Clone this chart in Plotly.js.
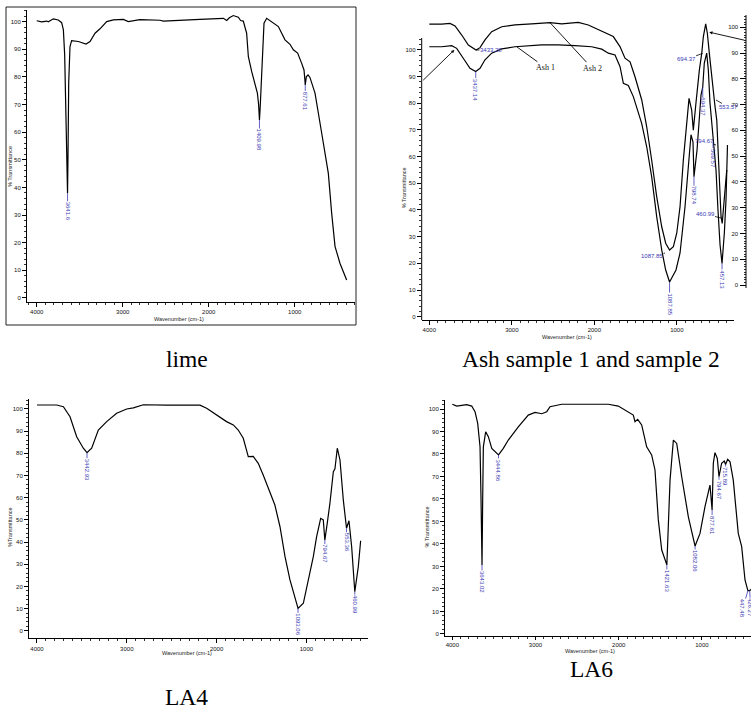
<!DOCTYPE html>
<html>
<head>
<meta charset="utf-8">
<script src="https://cdn.plot.ly/plotly-3.0.1.min.js"></script>
<style>html,body{margin:0;padding:0;background:#fff;}#chart{width:751px;height:709px;}</style>
</head>
<body>
<div id="chart"></div>
<script>
// ---------- DATA ----------
const xTickVals = [4000, 3000, 2000, 1000];
const yTickVals = [0, 10, 20, 30, 40, 50, 60, 70, 80, 90, 100];

// lime
const limeWn = [4000,3942,3884,3865,3807,3749,3710,3690,3675,3660,3648,3641.6,3636,3628,3613,3594,3516,3460,3427,3380,3322,3264,3186,3109,2993,2935,2877,2800,2566,2527,2101,1830,1791,1760,1714,1656,1629,1598,1559,1539,1500,1461,1434,1420,1409.98,1400,1390,1376,1357,1326,1268,1190,1113,1055,1016,966,919,892,882,877.61,865,845,823,764,686,609,570,531,473,396];
const limeT  = [100.3,99.9,100.2,99.9,101.0,100.6,99.6,97.0,88,68,45,37.9,52,78,91,93.1,92.8,92.2,91.9,92.8,95.8,97.4,100.0,100.6,100.8,100.0,100.4,100.7,100.5,100.2,100.8,101.2,100.4,101.4,102.2,101.6,100.4,100.2,95.8,87.3,81.9,77.7,74.1,70,64.4,70,78,89.8,99.4,101.2,100.0,98.2,93.4,91.8,89.8,88.6,84.9,82.5,79,77.1,80,80.7,79.8,74.1,59.6,45.1,30.6,18.6,12.5,6.5];
const limePeakWn = [3641.6, 1409.98, 877.61];
const limePeakT  = [37.9, 64.4, 77.1];
const limePeakText = ['3641.6', '1409.98', '877.61'];

// Ash sample 1 (left axis)
const ash1Wn = [4000,3850,3728,3668,3588,3507,3437.14,3385,3325,3244,3122,2961,2638,2436,2234,2032,1910,1830,1749,1688,1648,1588,1527,1426,1365,1305,1244,1183,1135,1087.85,1010,961,901,861,828,804,792,755,731,707,686,667,638,618,598,574,561,525,501,476,452,424,404,386];
const ash1T  = [101.2,101.2,101.6,100.6,96.9,93.1,91.9,93.1,96.3,98.8,100.4,101.2,101.9,101.9,101.6,101.2,100.3,98.8,98.1,93.7,87.5,86.7,82.5,72.5,63.7,52.5,37.5,25.0,17.5,13.0,17.5,23.9,41.1,56.1,68.2,65.5,52.5,62.5,73.8,83.1,86.1,95.1,98.8,92.5,80.1,71.9,65.5,55.0,40.0,26.9,20.0,31.4,43.8,64.4];
const ash1PeakWn = [3437.14, 1087.85, 792, 686, 561, 452];
const ash1PeakT  = [91.9, 13.0, 52.5, 86.1, 65.5, 20.0];
const ash1PeakText = ['3437.14', '1087.85', '798.74', '694.37', '569.57', '457.13'];

// Ash sample 2 (right axis)
const ash2Wn = [4000,3850,3749,3688,3607,3527,3433.28,3385,3325,3244,3122,2961,2759,2537,2395,2194,2073,1952,1870,1770,1689,1628,1567,1507,1425,1365,1305,1244,1183,1135,1087.85,1042,1001,961,921,880,852,820,800,768,752,727,698,679,650,630,606,577,558,539,516,497,476,464,450,428,407,395];
const ash2T  = [101.2,101.2,101.5,100.5,97.0,93.1,91.2,92.1,95.1,98.3,100.2,100.9,101.3,101.8,101.3,101.9,100.9,99.2,97.9,96.4,92.5,88.0,86.6,80.8,71.8,61.4,48.5,34.3,22.6,16.2,13.6,14.9,20.1,30.4,48.5,64.0,72.4,67.9,60.1,70.6,77.0,83.4,89.9,96.3,101.3,97.7,89.9,80.8,73.1,69.8,64.0,51.2,39.6,26.5,23.9,33.0,42.0,44.6];
const ash2PeakWn = [3433.28, 1143, 686, 525, 525, 464];
const ash2PeakT  = [91.2, 12.4, 89.9, 71.8, 54.3, 26.0];
const ash2PeakText = ['3433.28', '1087.85', '694.37', '553.57', '794.67', '460.99'];

// LA4
const la4Wn = [4000,3781,3706,3632,3558,3484,3442.93,3391,3317,3224,3113,3001,2927,2816,2556,2185,2111,2000,1889,1814,1759,1703,1647,1592,1536,1481,1406,1351,1294,1238,1183,1127,1093.06,1034,979,923,886,841,812,794.67,768,738,700,682,656,626,589,553.36,526,496,460.99,422,396];
const la4T  = [101.8,101.8,101.0,96.5,87.5,82.3,80.3,82.3,90.5,94.3,98.1,100.0,100.5,101.9,101.7,101.7,100.3,97.3,94.3,92.8,90.5,86.8,78.5,78.6,75.5,70.2,62.7,56.7,46.9,33.4,22.9,15.3,10.1,12.4,22.9,33.4,42.4,50.7,50.0,40.9,48.4,57.5,71.7,73.0,82.3,77.0,59.0,46.2,49.6,37.9,17.6,28.9,40.6];
const la4PeakWn = [3442.93, 1093.06, 794.67, 553.36, 460.99];
const la4PeakT  = [80.3, 10.1, 40.9, 46.2, 17.6];
const la4PeakText = ['3442.93', '1093.06', '794.67', '553.36', '460.99'];

// LA6
const la6Wn = [4000,3947,3887,3827,3767,3727,3695,3667,3655,3643.02,3635,3627,3599,3567,3526,3444.86,3387,3327,3207,3087,3006,2925,2865,2826,2685,2125,2005,1885,1825,1804,1772,1724,1664,1604,1564,1524,1483,1421.63,1383,1343,1303,1243,1163,1082.06,1023,963,903,877.61,863,843,815,794.67,763,731,715.89,690,662,623,563,522,482,447.48,426.27,400];
const la6T  = [102.1,101.3,101.6,101.9,101.3,98.8,93.6,83.2,60,30.7,60,83.2,89.9,87.7,82.5,79.6,82.5,86.2,92.1,97.3,98.5,97.9,98.8,101.0,102.1,102.1,101.3,98.8,97.3,94.4,95.4,92.9,83.2,79.6,72.9,50.7,37.3,30.7,68.4,86.2,84.7,69.9,52.1,39.1,44.7,56.6,66.2,55.1,75.9,80.6,78.0,69.9,75.9,76.9,75.3,77.6,76.5,68.4,44.7,38.8,24.0,19.3,19.3,20.0];
const la6PeakWn = [3643.02, 3444.86, 1421.63, 1082.06, 877.61, 794.67, 715.89, 447.48, 426.27];
const la6PeakT  = [30.7, 79.6, 30.7, 39.1, 55.1, 69.9, 75.3, 19.3, 19.3];
const la6PeakText = ['3643.02', '3444.86', '1421.63', '1082.06', '877.61', '794.67', '715.89', '447.48', '426.27'];

const captions = ['lime', 'Ash sample 1 and sample 2', 'LA4', 'LA6'];

// ---------- LAYOUT HELPERS ----------
const W = 751, H = 709;
const X = p => p / W;
const Y = p => 1 - p / H;
const BLUE = '#3a3ab4';
const tickFont = {family: 'Liberation Sans, Arial, sans-serif', size: 6, color: '#111'};

function xax(l, r, rng, anchor, tl) {
  return {domain: [X(l), X(r)], range: rng, anchor: anchor, showline: true, linecolor: '#000', linewidth: 1,
    ticks: 'outside', ticklen: tl || 4, tickwidth: 1, tickcolor: '#000', tickmode: 'array', tickvals: xTickVals,
    tickfont: tickFont, minor: {tick0: 0, dtick: 100, ticks: 'outside', ticklen: 2, tickwidth: 0.8, tickcolor: '#000'},
    showgrid: false, zeroline: false, fixedrange: true};
}
function yax(t, b, rng, anchor, showline) {
  const mv = []; for (let v = 0; v <= 104; v += 2) mv.push(v);
  return {domain: [Y(b), Y(t)], range: rng, anchor: anchor, showline: showline, linecolor: '#000', linewidth: 1,
    ticks: 'outside', ticklen: 4, tickwidth: 1, tickcolor: '#000', tickmode: 'array', tickvals: yTickVals,
    tickfont: tickFont, minor: {tickmode: 'array', tickvals: mv, ticks: 'outside', ticklen: 2, tickwidth: 0.8, tickcolor: '#000'},
    showgrid: false, zeroline: false, fixedrange: true};
}

const line = {color: '#000', width: 1.2};
const data = [
  {x: limeWn, y: limeT, xaxis: 'x', yaxis: 'y', mode: 'lines', line: line, hoverinfo: 'skip'},
  {x: ash1Wn, y: ash1T, xaxis: 'x2', yaxis: 'y2', mode: 'lines', line: line, hoverinfo: 'skip'},
  {x: ash2Wn, y: ash2T, xaxis: 'x2', yaxis: 'y5', mode: 'lines', line: line, hoverinfo: 'skip'},
  {x: la4Wn, y: la4T, xaxis: 'x3', yaxis: 'y3', mode: 'lines', line: line, hoverinfo: 'skip'},
  {x: la6Wn, y: la6T, xaxis: 'x4', yaxis: 'y4', mode: 'lines', line: line, hoverinfo: 'skip'}
];

const minorR = []; for (let v = 0; v <= 104; v += 1) minorR.push(v);
const layout = {
  width: W, height: H, margin: {l: 0, r: 0, t: 0, b: 0}, paper_bgcolor: '#fff', plot_bgcolor: 'rgba(0,0,0,0)',
  showlegend: false,
  xaxis: xax(27, 355, [4113, 299], 'y'),
  yaxis: yax(10, 302, [-1.45, 104.2], 'x', true),
  xaxis2: xax(421.7, 734, [4092, 307], 'y2'),
  yaxis2: yax(15, 320, [-1.24, 113.1], 'x2', false),
  yaxis5: {overlaying: 'y2', side: 'right', anchor: 'free', position: X(746), range: [-13.58, 104.77],
    showline: false, ticks: 'inside', ticklen: 6, tickwidth: 1, tickcolor: '#000', tickmode: 'array', tickvals: yTickVals,
    ticklabelposition: 'inside', tickfont: tickFont,
    minor: {tickmode: 'array', tickvals: minorR, ticks: 'inside', ticklen: 2, tickwidth: 0.8, tickcolor: '#000'},
    showgrid: false, zeroline: false, fixedrange: true},
  xaxis3: xax(29, 368, [4089, 314], 'y3'),
  yaxis3: yax(399, 638.3, [-3.4, 104.5], 'x3', true),
  xaxis4: xax(445, 751, [4088, 410], 'y4', 3),
  yaxis4: yax(400, 636, [-0.9, 104], 'x4', true),
  shapes: [
    {type: 'rect', xref: 'paper', yref: 'paper', x0: X(6), x1: X(356), y0: Y(325), y1: Y(7), line: {color: '#222', width: 1}},
    {type: 'line', xref: 'paper', yref: 'paper', x0: X(421.7), x1: X(421.7), y0: Y(320), y1: Y(38), line: {color: '#000', width: 1}},
    {type: 'line', xref: 'paper', yref: 'paper', x0: X(746), x1: X(746), y0: Y(288), y1: Y(15), line: {color: '#000', width: 1}}
  ],
  annotations: []
};

const A = layout.annotations;
function vlabels(wn, t, txt, xr, yr, ays, axs) {
  for (let i = 0; i < wn.length; i++) {
    A.push({x: wn[i], y: t[i], xref: xr, yref: yr, text: txt[i], textangle: 90, showarrow: true, arrowhead: 0,
      arrowwidth: 0.8, arrowcolor: BLUE, ax: axs ? axs[i] : 0, ay: ays[i], standoff: 0, borderpad: 0,
      font: {family: 'Liberation Sans, Arial, sans-serif', size: 6, color: BLUE}});
  }
}
vlabels(limePeakWn, limePeakT, limePeakText, 'x', 'y', [18, 20, 16]);
vlabels(ash1PeakWn, ash1PeakT, ash1PeakText, 'x2', 'y2', [18, 22, 19, 20, 16, 16]);
vlabels(la4PeakWn, la4PeakT, la4PeakText, 'x3', 'y3', [17, 16, 14, 14, 13]);
vlabels(la6PeakWn, la6PeakT, la6PeakText, 'x4', 'y4', [17, 15, 16, 15, 15, 13, 12, 18, 17], [0, 0, 0, 0, 0, 0, 0, -5, 1]);

// Ash 2 horizontal labels
const ash2ax = [15, -13, -16, 12, -11.5, -16];
const ash2ay = [0, 3, 6, 7, -4.5, -4];
for (let i = 0; i < ash2PeakWn.length; i++) {
  A.push({x: ash2PeakWn[i], y: ash2PeakT[i], xref: 'x2', yref: 'y5', text: ash2PeakText[i], showarrow: true, arrowhead: 0,
    arrowwidth: 0.8, arrowcolor: '#000', ax: ash2ax[i], ay: ash2ay[i], standoff: 0, borderpad: 0,
    font: {family: 'Liberation Sans, Arial, sans-serif', size: 6, color: BLUE}});
}
// arrows pointing each curve to its axis
A.push({x: 3697, y: 100, xref: 'x2', yref: 'y2', text: '', showarrow: true, arrowhead: 2, arrowsize: 0.7, arrowwidth: 0.9,
  arrowcolor: '#000', ax: -32.6, ay: 31.7});
A.push({x: 606, y: 98.1, xref: 'x2', yref: 'y5', text: '', showarrow: true, arrowhead: 2, arrowsize: 0.7, arrowwidth: 0.9,
  arrowcolor: '#000', ax: 36.7, ay: 8.4});
// series names
A.push({x: 2941, y: 101.2, xref: 'x2', yref: 'y2', text: 'Ash 1', showarrow: true, arrowhead: 0, arrowwidth: 0.9,
  arrowcolor: '#000', ax: 29, ay: 21, standoff: 0, font: {family: 'Liberation Serif, Times New Roman, serif', size: 8, color: '#111'}});
A.push({x: 2537, y: 101.8, xref: 'x2', yref: 'y5', text: 'Ash 2', showarrow: true, arrowhead: 0, arrowwidth: 0.9,
  arrowcolor: '#000', ax: 42, ay: 45.5, standoff: 0, font: {family: 'Liberation Serif, Times New Roman, serif', size: 8, color: '#111'}});

// axis titles
const titleFont = {family: 'Liberation Sans, Arial, sans-serif', size: 5.5, color: '#222'};
[[179.3, 319.3], [566.7, 336.7], [186.7, 653.3], [590, 651]].forEach(p => {
  A.push({x: X(p[0]), y: Y(p[1]), xref: 'paper', yref: 'paper', xanchor: 'center', yanchor: 'middle',
    text: 'Wavenumber (cm-1)', showarrow: false, font: titleFont});
});
[[10, 167, '% Transmittance'], [404.3, 188, '% Transmittance'], [9.3, 526.7, '%Transmittance'], [426.7, 526.7, '% Transmittance']].forEach(p => {
  A.push({x: X(p[0]), y: Y(p[1]), xref: 'paper', yref: 'paper', xanchor: 'center', yanchor: 'middle',
    text: p[2], textangle: -90, showarrow: false, font: titleFont});
});
// captions
const capFont = {family: 'Liberation Serif, Times New Roman, serif', size: 23.5, color: '#000'};
[[186.8, 358.8], [591, 358.8], [186.5, 697], [591.3, 669.2]].forEach((p, i) => {
  A.push({x: X(p[0]), y: Y(p[1]), xref: 'paper', yref: 'paper', xanchor: 'center', yanchor: 'middle',
    text: captions[i], showarrow: false, font: capFont});
});

Plotly.newPlot('chart', data, layout, {displayModeBar: false, staticPlot: true});
</script>
</body>
</html>
